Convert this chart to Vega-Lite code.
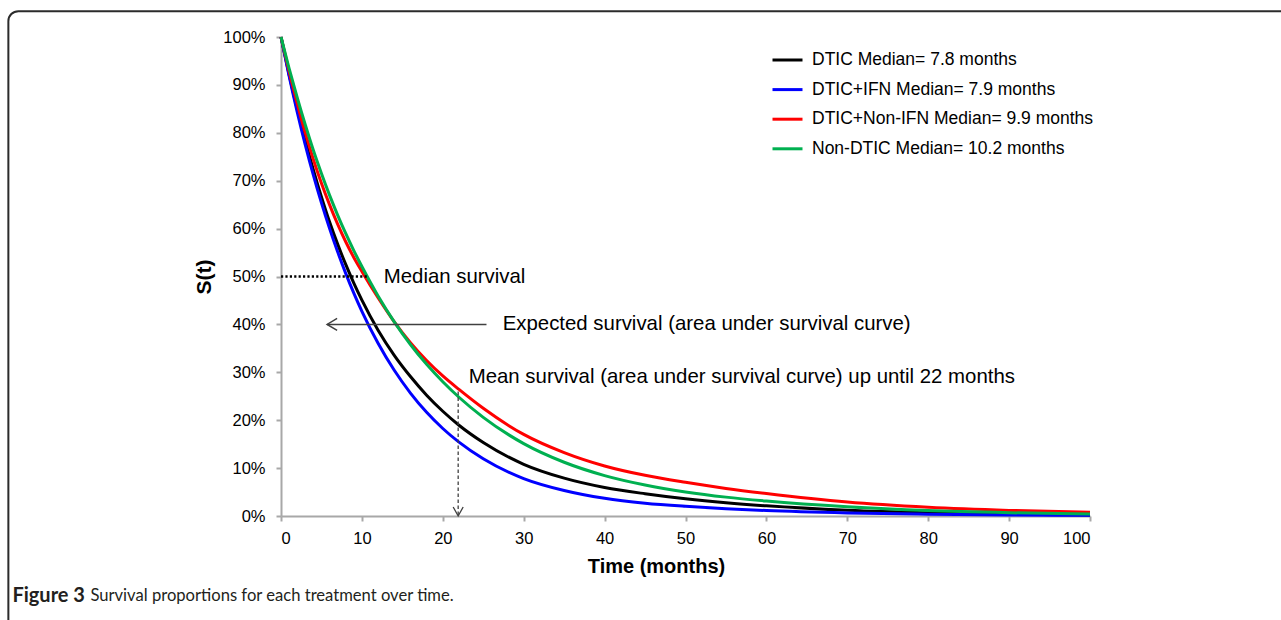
{
  "$schema": "https://vega.github.io/schema/vega-lite/v6.json",
  "autosize": "none",
  "width": 809,
  "height": 479,
  "padding": {"left": 281, "top": 37, "right": 191, "bottom": 104},
  "background": "white",
  "config": {"view": {"stroke": null}, "font": "Liberation Sans"},
  "datasets": {
    "curves": [
      {"t": 0, "s": 1, "series": "DTIC Median= 7.8 months"},
      {"t": 1, "s": 0.922, "series": "DTIC Median= 7.8 months"},
      {"t": 2, "s": 0.85, "series": "DTIC Median= 7.8 months"},
      {"t": 3, "s": 0.784, "series": "DTIC Median= 7.8 months"},
      {"t": 4, "s": 0.7227, "series": "DTIC Median= 7.8 months"},
      {"t": 5, "s": 0.6663, "series": "DTIC Median= 7.8 months"},
      {"t": 6, "s": 0.6143, "series": "DTIC Median= 7.8 months"},
      {"t": 7, "s": 0.5676, "series": "DTIC Median= 7.8 months"},
      {"t": 8, "s": 0.5252, "series": "DTIC Median= 7.8 months"},
      {"t": 9, "s": 0.4863, "series": "DTIC Median= 7.8 months"},
      {"t": 10, "s": 0.4507, "series": "DTIC Median= 7.8 months"},
      {"t": 12, "s": 0.388, "series": "DTIC Median= 7.8 months"},
      {"t": 14, "s": 0.3355, "series": "DTIC Median= 7.8 months"},
      {"t": 16, "s": 0.2912, "series": "DTIC Median= 7.8 months"},
      {"t": 18, "s": 0.2523, "series": "DTIC Median= 7.8 months"},
      {"t": 20, "s": 0.2187, "series": "DTIC Median= 7.8 months"},
      {"t": 22, "s": 0.1895, "series": "DTIC Median= 7.8 months"},
      {"t": 25, "s": 0.1534, "series": "DTIC Median= 7.8 months"},
      {"t": 30, "s": 0.108, "series": "DTIC Median= 7.8 months"},
      {"t": 35, "s": 0.0791, "series": "DTIC Median= 7.8 months"},
      {"t": 40, "s": 0.0596, "series": "DTIC Median= 7.8 months"},
      {"t": 45, "s": 0.0465, "series": "DTIC Median= 7.8 months"},
      {"t": 50, "s": 0.036, "series": "DTIC Median= 7.8 months"},
      {"t": 55, "s": 0.0277, "series": "DTIC Median= 7.8 months"},
      {"t": 60, "s": 0.0212, "series": "DTIC Median= 7.8 months"},
      {"t": 70, "s": 0.012, "series": "DTIC Median= 7.8 months"},
      {"t": 80, "s": 0.0067, "series": "DTIC Median= 7.8 months"},
      {"t": 90, "s": 0.0038, "series": "DTIC Median= 7.8 months"},
      {"t": 100, "s": 0.0021, "series": "DTIC Median= 7.8 months"},

      {"t": 0, "s": 1, "series": "DTIC+IFN Median= 7.9 months"},
      {"t": 1, "s": 0.9185, "series": "DTIC+IFN Median= 7.9 months"},
      {"t": 2, "s": 0.8437, "series": "DTIC+IFN Median= 7.9 months"},
      {"t": 3, "s": 0.775, "series": "DTIC+IFN Median= 7.9 months"},
      {"t": 4, "s": 0.7118, "series": "DTIC+IFN Median= 7.9 months"},
      {"t": 5, "s": 0.6538, "series": "DTIC+IFN Median= 7.9 months"},
      {"t": 6, "s": 0.6005, "series": "DTIC+IFN Median= 7.9 months"},
      {"t": 7, "s": 0.5516, "series": "DTIC+IFN Median= 7.9 months"},
      {"t": 8, "s": 0.5066, "series": "DTIC+IFN Median= 7.9 months"},
      {"t": 9, "s": 0.4653, "series": "DTIC+IFN Median= 7.9 months"},
      {"t": 10, "s": 0.4274, "series": "DTIC+IFN Median= 7.9 months"},
      {"t": 12, "s": 0.3606, "series": "DTIC+IFN Median= 7.9 months"},
      {"t": 14, "s": 0.3042, "series": "DTIC+IFN Median= 7.9 months"},
      {"t": 16, "s": 0.2567, "series": "DTIC+IFN Median= 7.9 months"},
      {"t": 18, "s": 0.2165, "series": "DTIC+IFN Median= 7.9 months"},
      {"t": 20, "s": 0.1827, "series": "DTIC+IFN Median= 7.9 months"},
      {"t": 22, "s": 0.1541, "series": "DTIC+IFN Median= 7.9 months"},
      {"t": 25, "s": 0.1194, "series": "DTIC+IFN Median= 7.9 months"},
      {"t": 30, "s": 0.0781, "series": "DTIC+IFN Median= 7.9 months"},
      {"t": 35, "s": 0.0532, "series": "DTIC+IFN Median= 7.9 months"},
      {"t": 40, "s": 0.0369, "series": "DTIC+IFN Median= 7.9 months"},
      {"t": 45, "s": 0.0267, "series": "DTIC+IFN Median= 7.9 months"},
      {"t": 50, "s": 0.0202, "series": "DTIC+IFN Median= 7.9 months"},
      {"t": 55, "s": 0.0153, "series": "DTIC+IFN Median= 7.9 months"},
      {"t": 60, "s": 0.0114, "series": "DTIC+IFN Median= 7.9 months"},
      {"t": 70, "s": 0.0065, "series": "DTIC+IFN Median= 7.9 months"},
      {"t": 80, "s": 0.0037, "series": "DTIC+IFN Median= 7.9 months"},
      {"t": 90, "s": 0.0022, "series": "DTIC+IFN Median= 7.9 months"},
      {"t": 100, "s": 0.0014, "series": "DTIC+IFN Median= 7.9 months"},

      {"t": 0, "s": 1, "series": "DTIC+Non-IFN Median= 9.9 months"},
      {"t": 1, "s": 0.9282, "series": "DTIC+Non-IFN Median= 9.9 months"},
      {"t": 2, "s": 0.8616, "series": "DTIC+Non-IFN Median= 9.9 months"},
      {"t": 3, "s": 0.7997, "series": "DTIC+Non-IFN Median= 9.9 months"},
      {"t": 4, "s": 0.7444, "series": "DTIC+Non-IFN Median= 9.9 months"},
      {"t": 5, "s": 0.6949, "series": "DTIC+Non-IFN Median= 9.9 months"},
      {"t": 6, "s": 0.65, "series": "DTIC+Non-IFN Median= 9.9 months"},
      {"t": 7, "s": 0.6092, "series": "DTIC+Non-IFN Median= 9.9 months"},
      {"t": 8, "s": 0.5726, "series": "DTIC+Non-IFN Median= 9.9 months"},
      {"t": 9, "s": 0.5398, "series": "DTIC+Non-IFN Median= 9.9 months"},
      {"t": 10, "s": 0.5107, "series": "DTIC+Non-IFN Median= 9.9 months"},
      {"t": 12, "s": 0.4557, "series": "DTIC+Non-IFN Median= 9.9 months"},
      {"t": 14, "s": 0.4054, "series": "DTIC+Non-IFN Median= 9.9 months"},
      {"t": 16, "s": 0.362, "series": "DTIC+Non-IFN Median= 9.9 months"},
      {"t": 18, "s": 0.3247, "series": "DTIC+Non-IFN Median= 9.9 months"},
      {"t": 20, "s": 0.2923, "series": "DTIC+Non-IFN Median= 9.9 months"},
      {"t": 22, "s": 0.2642, "series": "DTIC+Non-IFN Median= 9.9 months"},
      {"t": 25, "s": 0.2248, "series": "DTIC+Non-IFN Median= 9.9 months"},
      {"t": 30, "s": 0.1703, "series": "DTIC+Non-IFN Median= 9.9 months"},
      {"t": 35, "s": 0.1323, "series": "DTIC+Non-IFN Median= 9.9 months"},
      {"t": 40, "s": 0.1044, "series": "DTIC+Non-IFN Median= 9.9 months"},
      {"t": 45, "s": 0.0849, "series": "DTIC+Non-IFN Median= 9.9 months"},
      {"t": 50, "s": 0.0703, "series": "DTIC+Non-IFN Median= 9.9 months"},
      {"t": 55, "s": 0.0576, "series": "DTIC+Non-IFN Median= 9.9 months"},
      {"t": 60, "s": 0.0469, "series": "DTIC+Non-IFN Median= 9.9 months"},
      {"t": 70, "s": 0.029, "series": "DTIC+Non-IFN Median= 9.9 months"},
      {"t": 80, "s": 0.0182, "series": "DTIC+Non-IFN Median= 9.9 months"},
      {"t": 90, "s": 0.0117, "series": "DTIC+Non-IFN Median= 9.9 months"},
      {"t": 100, "s": 0.0078, "series": "DTIC+Non-IFN Median= 9.9 months"},

      {"t": 0, "s": 1, "series": "Non-DTIC Median= 10.2 months"},
      {"t": 1, "s": 0.9347, "series": "Non-DTIC Median= 10.2 months"},
      {"t": 2, "s": 0.8737, "series": "Non-DTIC Median= 10.2 months"},
      {"t": 3, "s": 0.8167, "series": "Non-DTIC Median= 10.2 months"},
      {"t": 4, "s": 0.7634, "series": "Non-DTIC Median= 10.2 months"},
      {"t": 5, "s": 0.715, "series": "Non-DTIC Median= 10.2 months"},
      {"t": 6, "s": 0.6698, "series": "Non-DTIC Median= 10.2 months"},
      {"t": 7, "s": 0.6283, "series": "Non-DTIC Median= 10.2 months"},
      {"t": 8, "s": 0.5898, "series": "Non-DTIC Median= 10.2 months"},
      {"t": 9, "s": 0.5541, "series": "Non-DTIC Median= 10.2 months"},
      {"t": 10, "s": 0.521, "series": "Non-DTIC Median= 10.2 months"},
      {"t": 12, "s": 0.4595, "series": "Non-DTIC Median= 10.2 months"},
      {"t": 14, "s": 0.4054, "series": "Non-DTIC Median= 10.2 months"},
      {"t": 16, "s": 0.358, "series": "Non-DTIC Median= 10.2 months"},
      {"t": 18, "s": 0.3166, "series": "Non-DTIC Median= 10.2 months"},
      {"t": 20, "s": 0.2803, "series": "Non-DTIC Median= 10.2 months"},
      {"t": 22, "s": 0.2479, "series": "Non-DTIC Median= 10.2 months"},
      {"t": 25, "s": 0.206, "series": "Non-DTIC Median= 10.2 months"},
      {"t": 30, "s": 0.1511, "series": "Non-DTIC Median= 10.2 months"},
      {"t": 35, "s": 0.1122, "series": "Non-DTIC Median= 10.2 months"},
      {"t": 40, "s": 0.0844, "series": "Non-DTIC Median= 10.2 months"},
      {"t": 45, "s": 0.0648, "series": "Non-DTIC Median= 10.2 months"},
      {"t": 50, "s": 0.0503, "series": "Non-DTIC Median= 10.2 months"},
      {"t": 55, "s": 0.0394, "series": "Non-DTIC Median= 10.2 months"},
      {"t": 60, "s": 0.0312, "series": "Non-DTIC Median= 10.2 months"},
      {"t": 70, "s": 0.0192, "series": "Non-DTIC Median= 10.2 months"},
      {"t": 80, "s": 0.0113, "series": "Non-DTIC Median= 10.2 months"},
      {"t": 90, "s": 0.0068, "series": "Non-DTIC Median= 10.2 months"},
      {"t": 100, "s": 0.004, "series": "Non-DTIC Median= 10.2 months"}
    ]
  },
  "layer": [
    {
      "data": {"values": [{}]},
      "mark": {"type": "rect", "fillOpacity": 0, "stroke": "#2b2b2b", "strokeWidth": 2, "cornerRadius": 10},
      "encoding": {
        "x": {"datum": -33.7, "type": "quantitative"},
        "x2": {"datum": 125},
        "y": {"datum": 1.054, "type": "quantitative"},
        "y2": {"datum": -0.3}
      }
    },
    {
      "data": {"name": "curves"},
      "mark": {"type": "line", "strokeWidth": 3, "interpolate": "monotone"},
      "encoding": {
        "x": {
          "field": "t", "type": "quantitative",
          "scale": {"domain": [0, 100], "nice": false},
          "axis": {
            "title": "Time (months)", "values": [0, 10, 20, 30, 40, 50, 60, 70, 80, 90, 100],
            "grid": false, "domainColor": "#A8A8A8", "domainWidth": 2, "tickColor": "#A8A8A8", "tickWidth": 2, "tickSize": 5,
            "labelFontSize": 16.5, "labelColor": "black", "labelPadding": 9, "labelFont": "Liberation Sans",
            "titleFontSize": 20, "titleFontWeight": "bold", "titleColor": "black", "titlePadding": 10, "titleX": 375, "titleFont": "Liberation Sans"
          }
        },
        "y": {
          "field": "s", "type": "quantitative",
          "scale": {"domain": [0, 1], "nice": false},
          "axis": {
            "title": "S(t)", "format": ".0%", "values": [0, 0.1, 0.2, 0.3, 0.4, 0.5, 0.6, 0.7, 0.8, 0.9, 1],
            "grid": false, "domainColor": "#A8A8A8", "domainWidth": 2, "tickColor": "#A8A8A8", "tickWidth": 2, "tickSize": 5,
            "labelFontSize": 16.5, "labelColor": "black", "labelPadding": 11, "labelFont": "Liberation Sans",
            "titleFontSize": 21, "titleFontWeight": "bold", "titleColor": "black", "titlePadding": 8, "titleFont": "Liberation Sans"
          }
        },
        "color": {
          "field": "series", "type": "nominal",
          "scale": {
            "domain": ["DTIC Median= 7.8 months", "DTIC+IFN Median= 7.9 months", "DTIC+Non-IFN Median= 9.9 months", "Non-DTIC Median= 10.2 months"],
            "range": ["#000000", "#0000FF", "#FF0000", "#00B050"]
          },
          "legend": {
            "orient": "none", "legendX": 490, "legendY": 6.5, "title": null,
            "symbolType": "stroke", "symbolSize": 900, "symbolStrokeWidth": 3,
            "labelFontSize": 17.5, "labelFont": "Liberation Sans", "labelColor": "black", "labelOffset": 8,
            "rowPadding": 4.6, "padding": 0, "labelLimit": 400
          }
        }
      }
    },
    {
      "data": {"values": [{}]},
      "mark": {"type": "rule", "color": "black", "strokeWidth": 2.5, "strokeDash": [2.2, 2.2]},
      "encoding": {"x": {"datum": 0}, "x2": {"datum": 10.8}, "y": {"datum": 0.5}}
    },
    {
      "data": {"values": [{}]},
      "mark": {"type": "rule", "color": "#404040", "strokeWidth": 1.5},
      "encoding": {"x": {"datum": 5.7}, "x2": {"datum": 25.4}, "y": {"datum": 0.4}}
    },
    {
      "data": {"values": [{}]},
      "mark": {"type": "point", "shape": "M 2 -1.2 L 0 0 L 2 1.2", "size": 100, "filled": false, "opacity": 1, "color": "#404040", "strokeWidth": 1.5},
      "encoding": {"x": {"datum": 5.7}, "y": {"datum": 0.4}}
    },
    {
      "data": {"values": [{}]},
      "mark": {"type": "rule", "color": "#404040", "strokeWidth": 1.3, "strokeDash": [3.5, 2.5]},
      "encoding": {"x": {"datum": 21.9}, "y": {"datum": 0.002}, "y2": {"datum": 0.266}}
    },
    {
      "data": {"values": [{}]},
      "mark": {"type": "point", "shape": "M -1 -1.8 L 0 0 L 1 -1.8", "size": 100, "filled": false, "opacity": 1, "color": "#404040", "strokeWidth": 1.3},
      "encoding": {"x": {"datum": 21.9}, "y": {"datum": 0}}
    },
    {
      "data": {"values": [
        {"label": "Median survival", "t": 12.7, "s": 0.5},
        {"label": "Expected survival (area under survival curve)", "t": 27.4, "s": 0.4},
        {"label": "Mean survival (area under survival curve) up until 22 months", "t": 23.2, "s": 0.29}
      ]},
      "mark": {"type": "text", "align": "left", "baseline": "middle", "fontSize": 20.4, "font": "Liberation Sans", "color": "black"},
      "encoding": {"x": {"field": "t", "type": "quantitative"}, "y": {"field": "s", "type": "quantitative"}, "text": {"field": "label"}}
    },
    {
      "data": {"values": [{"label": "Figure 3"}]},
      "mark": {"type": "text", "align": "left", "baseline": "middle", "fontSize": 20, "font": "Lato", "fontWeight": "bold", "color": "#231F20"},
      "encoding": {"x": {"datum": -33.2}, "y": {"datum": -0.167}, "text": {"field": "label"}}
    },
    {
      "data": {"values": [{"label": "Survival proportions for each treatment over time."}]},
      "mark": {"type": "text", "align": "left", "baseline": "middle", "fontSize": 16.6, "font": "Lato", "color": "#231F20", "dx": 78},
      "encoding": {"x": {"datum": -33.2}, "y": {"datum": -0.167}, "text": {"field": "label"}}
    }
  ]
}
